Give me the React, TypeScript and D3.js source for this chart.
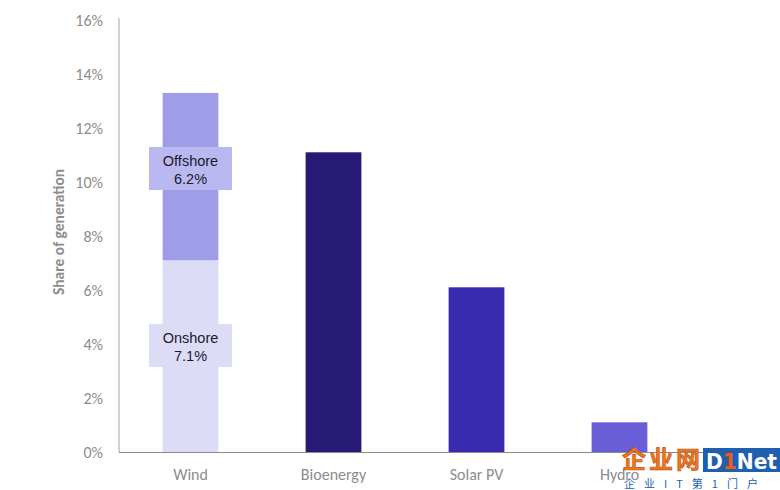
import React from "react";
import * as d3 from "d3";

const categories = ["Wind", "Bioenergy", "Solar PV", "Hydro"];
const onshore = 7.1;
const offshore = 6.2;
const singleValues = [0, 11.1, 6.1, 1.1];
const yTicks = [0, 2, 4, 6, 8, 10, 12, 14, 16];
const barColors = ["#dcdcf7", "#271a76", "#3a2ab0", "#6a5ed8"];
const offshoreColor = "#a09de8";

export default function App() {
  const W = 780, H = 490;
  const x = d3.scaleBand<string>().domain(categories).range([119, 691]).paddingInner(0.61).paddingOuter(0.305);
  const y = d3.scaleLinear().domain([0, 16]).range([452, 20]);
  const bw = x.bandwidth();
  const font = "'Liberation Sans', Arial, sans-serif";
  const cal = "Carlito, 'Open Sans', sans-serif";
  const windX = x("Wind")!;
  const cx = windX + bw / 2;
  const boxW = 83, boxH = 43;
  return (
    <svg width={W} height={H} style={{ position: "absolute", left: 0, top: 0, background: "#fff" }}>
      <line x1={119} x2={119} y1={18} y2={452} stroke="#a6a6a6" strokeWidth={1} />
      {yTicks.map((t) => (
        <text key={t} x={103} y={y(t)} dy="0.35em" textAnchor="end" fontFamily={cal} fontSize={16} fill="#8c8c8c">
          {t}%
        </text>
      ))}
      <text transform={`translate(64,${232}) rotate(-90)`} textAnchor="middle" fontFamily={cal} fontSize={15.5} fontWeight="bold" fill="#8c8c8c">
        Share of generation
      </text>
      {/* Wind stacked */}
      <rect x={windX} width={bw} y={y(onshore)} height={y(0) - y(onshore)} fill={barColors[0]} />
      <rect x={windX} width={bw} y={y(onshore + offshore)} height={y(onshore) - y(onshore + offshore)} fill={offshoreColor} />
      {categories.slice(1).map((c, i) => (
        <rect key={c} x={x(c)!} width={bw} y={y(singleValues[i + 1])} height={y(0) - y(singleValues[i + 1])} fill={barColors[i + 1]} />
      ))}
      {/* labels */}
      <rect x={cx - boxW / 2} y={147} width={boxW} height={boxH} fill="#bab8f0" />
      <text x={cx} y={166} textAnchor="middle" fontFamily={font} fontSize={14.5} fill="#1a1a2e">Offshore</text>
      <text x={cx} y={184} textAnchor="middle" fontFamily={font} fontSize={14.5} fill="#1a1a2e">{offshore.toFixed(1)}%</text>
      <rect x={cx - boxW / 2} y={324} width={boxW} height={boxH} fill="#dcdcf7" />
      <text x={cx} y={343} textAnchor="middle" fontFamily={font} fontSize={14.5} fill="#1a1a2e">Onshore</text>
      <text x={cx} y={361} textAnchor="middle" fontFamily={font} fontSize={14.5} fill="#1a1a2e">{onshore.toFixed(1)}%</text>
      <line x1={119} x2={780} y1={452.5} y2={452.5} stroke="#8c8c8c" strokeWidth={1} />
      {categories.map((c) => (
        <text key={c} x={x(c)! + bw / 2} y={474} dy="0.35em" textAnchor="middle" fontFamily={cal} fontSize={16} fill="#8c8c8c">
          {c}
        </text>
      ))}
      {/* watermark */}
      <g>
        <text x={622} y={468} fontFamily="'Noto Sans CJK SC', sans-serif" fontSize={24} fontWeight="bold" fill="#f07818" stroke="#c0501a" strokeWidth={0.6} textLength={78}>企业网</text>
        <rect x={703} y={448} width={77} height={24} fill="#1e5fb0" />
        <text x={706} y={469} fontFamily="'DejaVu Sans', sans-serif" fontSize={21} fontWeight="bold" fill="#ffffff" textLength={71} lengthAdjust="spacingAndGlyphs">D<tspan fill="#f05a1a">1</tspan>Net</text>
        <text x={624} y={488} fontFamily="'Noto Sans CJK SC', sans-serif" fontSize={11} fill="#1e5fb0" letterSpacing={9}>企业IT第1门户</text>
      </g>
    </svg>
  );
}
